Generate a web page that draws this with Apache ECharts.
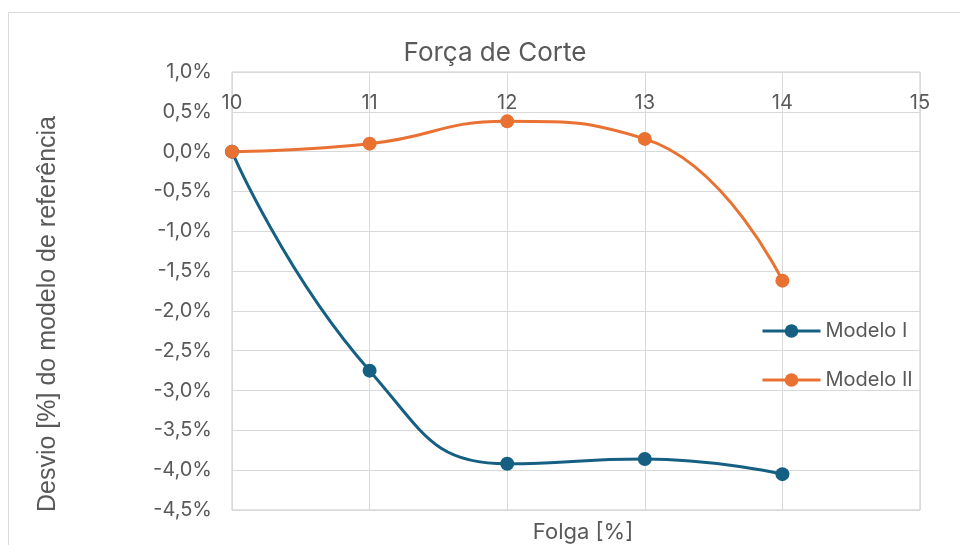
<!DOCTYPE html>
<html><head><meta charset="utf-8">
<script src="https://cdn.jsdelivr.net/npm/echarts@6/dist/echarts.min.js"></script>
<style>html,body{margin:0;padding:0;background:#fff}#c{width:960px;height:545px}</style>
</head><body><div id="c"></div>
<script>
const folga = [10, 11, 12, 13, 14];
const modeloI = [0.0, -2.75, -3.92, -3.86, -4.05];
const modeloII = [0.0, 0.10, 0.38, 0.16, -1.62];
const seriesNames = ['Modelo I', 'Modelo II'];
const titleText = 'Força de Corte';
const xTitle = 'Folga [%]';
const yTitle = 'Desvio [%] do modelo de referência';

const font = 'Inter, "Open Sans", sans-serif';
const txt = '#595959';
const chart = echarts.init(document.getElementById('c'));
const pairs = arr => folga.map((x, i) => [x, arr[i]]);
chart.setOption({
  animation: false,
  title: [
    {text: titleText, left: 490, top: 35, textAlign: 'center',
     textStyle: {fontFamily: font, fontSize: 26, fontWeight: 'normal', color: txt}},
    {text: xTitle, left: 578, top: 516, textAlign: 'center',
     textStyle: {fontFamily: font, fontSize: 22, fontWeight: 'normal', color: txt}}
  ],
  graphic: [
    {type: 'rect', shape: {x: 8.5, y: 12.5, width: 1000, height: 600}, style: {fill: 'none', stroke: '#d9d9d9', lineWidth: 1}, silent: true},
    {type: 'text', x: 48, y: 314, rotation: Math.PI / 2,
     style: {text: yTitle, fontFamily: '"Liberation Sans", Arial, sans-serif', fontSize: 25, fill: txt, align: 'center', verticalAlign: 'middle'}}
  ],
  legend: {
    orient: 'vertical', left: 756, top: 316, itemGap: 29, itemWidth: 58, itemHeight: 17,
    textStyle: {fontFamily: font, fontSize: 20, color: txt},
    lineStyle: {width: 3},
    data: seriesNames
  },
  grid: {left: 232, right: 40, top: 72, bottom: 35, show: true, borderColor: '#c8c8c8', borderWidth: 1},
  xAxis: {
    type: 'value', min: 10, max: 15, interval: 1, position: 'top',
    axisLine: {show: false}, axisTick: {show: false},
    axisLabel: {inside: true, margin: 21, fontFamily: font, fontSize: 20, color: txt},
    splitLine: {lineStyle: {color: '#d9d9d9', width: 1}}
  },
  yAxis: {
    type: 'value', min: -4.5, max: 1.0, interval: 0.5,
    axisLine: {show: false}, axisTick: {show: false},
    axisLabel: {margin: 20, fontFamily: font, fontSize: 20, color: txt,
      formatter: v => v.toFixed(1).replace('.', ',').replace('-0,0', '0,0') + '%'},
    splitLine: {lineStyle: {color: '#d9d9d9', width: 1}}
  },
  series: [
    {name: seriesNames[0], type: 'line', data: pairs(modeloI), smooth: 0.5,
     symbol: 'circle', symbolSize: 14, lineStyle: {width: 3, color: '#156082'}, itemStyle: {color: '#156082'}},
    {name: seriesNames[1], type: 'line', data: pairs(modeloII), smooth: 0.5,
     symbol: 'circle', symbolSize: 14, lineStyle: {width: 3, color: '#E97132'}, itemStyle: {color: '#E97132'}}
  ]
});
</script></body></html>
